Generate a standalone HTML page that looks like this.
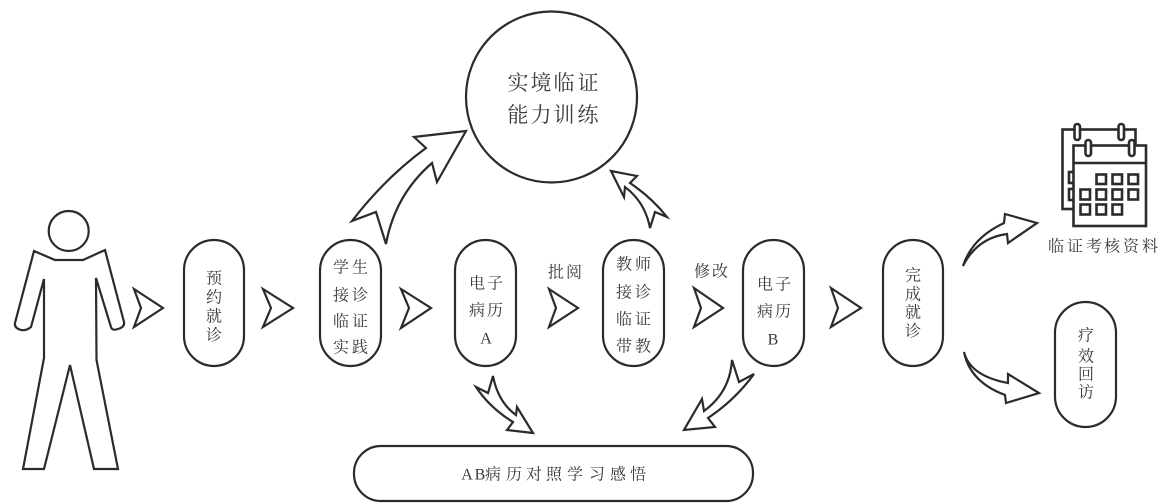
<!DOCTYPE html>
<html lang="zh">
<head>
<meta charset="utf-8">
<title>实境临证能力训练流程</title>
<style>
html,body{margin:0;padding:0;background:#fff;width:1167px;height:504px;overflow:hidden}
svg{display:block}
.s{fill:#fff;stroke:#2b2b2b;stroke-width:2.2;stroke-linejoin:miter}
.n{fill:none;stroke:#2b2b2b;stroke-width:2.5}
.c{fill:#fff;stroke:#2b2b2b;stroke-width:2.6}
text{font-family:"Liberation Serif","Noto Serif CJK SC",serif;fill:#3a3a3a;text-anchor:middle;dominant-baseline:central}
.t{font-size:16px}
.b{font-size:21px}
</style>
</head>
<body>
<svg width="1167" height="504" viewBox="0 0 1167 504" xmlns="http://www.w3.org/2000/svg">
<!-- person -->
<circle class="s" cx="68.7" cy="231" r="20"/>
<path class="s" d="M34 251L55 260H83L105 250L124 322Q125 327 118 329Q112 331 111 327L96 278L96.500 360L118 469H94L70 365L44 469H23L44 358V279L31 327Q26 331 21 330Q14 328 15 323Z"/>
<!-- chevrons -->
<path class="s" d="M134 289L163 308L134 327L141 308Z"/>
<path class="s" d="M263 289L293 308L263 327L271 308Z"/>
<path class="s" d="M401 289L431 308L401 328L409 308Z"/>
<path class="s" d="M549 289L578 308L549 327L556 308Z"/>
<path class="s" d="M694 288L723 308L694 327L701 308Z"/>
<path class="s" d="M831 288L861 308L831 327L838 308Z"/>
<!-- pills -->
<rect class="s" x="184" y="240" width="60" height="126" rx="30"/>
<rect class="s" x="320" y="240" width="61" height="126" rx="30.500"/>
<rect class="s" x="455" y="240" width="61" height="126" rx="30.500"/>
<rect class="s" x="603" y="240" width="61" height="126" rx="30.500"/>
<rect class="s" x="743" y="240" width="61" height="126" rx="30.500"/>
<rect class="s" x="883" y="240" width="60" height="126" rx="30"/>
<rect class="s" x="1055" y="302" width="61" height="125" rx="30.500"/>
<rect class="s" x="354" y="446" width="399" height="55" rx="27"/>
<circle class="s" cx="551.500" cy="97" r="85.500"/>
<!-- curved arrows -->
<path class="s" d="M352 221Q385 178 426 148L414 137L466 131L437 182L432 163Q395 195 386 244L376 212Z"/>
<path class="s" d="M611 171L637 176L630 183Q652 198 667 217L655 212L650 228Q645 202 625 187L624 197Z"/>
<path class="s" d="M493 376L488 393L476 387Q490 408 513 422L507 430L533 433L517 407L516 415Q498 402 493 376Z"/>
<path class="s" d="M732 360L739 382L754 374Q735 400 708 418L715 427L684 430L702 399L704 411Q730 392 732 360Z"/>
<path class="s" d="M963 266Q972 238 1004 223L1005 214L1037 223L1008 243L1007 234Q977 238 963 266Z"/>
<path class="s" d="M964 352Q970 376 1008 383L1008 374L1039 393L1006 403L1005 395Q970 382 964 352Z"/>
<!-- calendar -->
<rect class="c" x="1062.500" y="129.500" width="73" height="79.500"/>
<rect class="c" x="1069" y="172" width="6" height="11"/>
<rect class="c" x="1069" y="189" width="6" height="11"/>
<rect class="c" x="1073.500" y="145.500" width="72.500" height="80.500"/>
<path class="n" d="M1073 163H1146"/>
<rect class="c" x="1074.500" y="124" width="5.500" height="16" rx="2.700"/>
<rect class="c" x="1118.500" y="124" width="5.500" height="16" rx="2.700"/>
<rect class="c" x="1085.500" y="140" width="5.500" height="16" rx="2.700"/>
<rect class="c" x="1129" y="140" width="5.500" height="16" rx="2.700"/>
<g class="c">
<rect x="1096.500" y="174.500" width="9.500" height="9.500"/><rect x="1112.500" y="174.500" width="9.500" height="9.500"/><rect x="1128.500" y="174.500" width="9.500" height="9.500"/>
<rect x="1080.500" y="189.500" width="9.500" height="10"/><rect x="1096.500" y="189.500" width="9.500" height="10"/><rect x="1112.500" y="189.500" width="9.500" height="10"/><rect x="1128.500" y="189.500" width="9.500" height="10"/>
<rect x="1080.500" y="204.500" width="9.500" height="10"/><rect x="1096.500" y="204.500" width="9.500" height="10"/><rect x="1112.500" y="204.500" width="9.500" height="10"/>
</g>
<!-- text -->
<text class="b" x="518 541 564 588" y="83">实境临证</text>
<text class="b" x="518 541 564 588" y="115">能力训练</text>

<text class="t" x="214" y="279">预</text><text class="t" x="214" y="298">约</text><text class="t" x="214" y="317">就</text><text class="t" x="214" y="336">诊</text>

<text class="t" x="341 360" y="268">学生</text><text class="t" x="341 360" y="296">接诊</text><text class="t" x="341 360" y="322">临证</text><text class="t" x="341 360" y="348">实践</text>

<text class="t" x="477 495" y="284">电子</text><text class="t" x="477 495" y="311">病历</text><text class="t" x="486" y="339">A</text>

<text class="t" x="556 574" y="273">批阅</text>

<text class="t" x="624 643" y="265">教师</text><text class="t" x="624 643" y="293">接诊</text><text class="t" x="624 643" y="320">临证</text><text class="t" x="624 643" y="347">带教</text>

<text class="t" x="702 720" y="272">修改</text>

<text class="t" x="765 783" y="285">电子</text><text class="t" x="765 783" y="312">病历</text><text class="t" x="773" y="340">B</text>

<text class="t" x="913" y="276">完</text><text class="t" x="913" y="295">成</text><text class="t" x="913" y="313">就</text><text class="t" x="913" y="332">诊</text>

<text class="t" x="1086" y="336">疗</text><text class="t" x="1086" y="357">效</text><text class="t" x="1086" y="375">回</text><text class="t" x="1086" y="393">访</text>

<text class="t" x="1056 1075 1094 1112 1131 1150" y="247">临证考核资料</text>

<text class="t" x="467 480 493 514 534 554 575 597 618 638" y="475">AB病历对照学习感悟</text>
</svg>
</body>
</html>
